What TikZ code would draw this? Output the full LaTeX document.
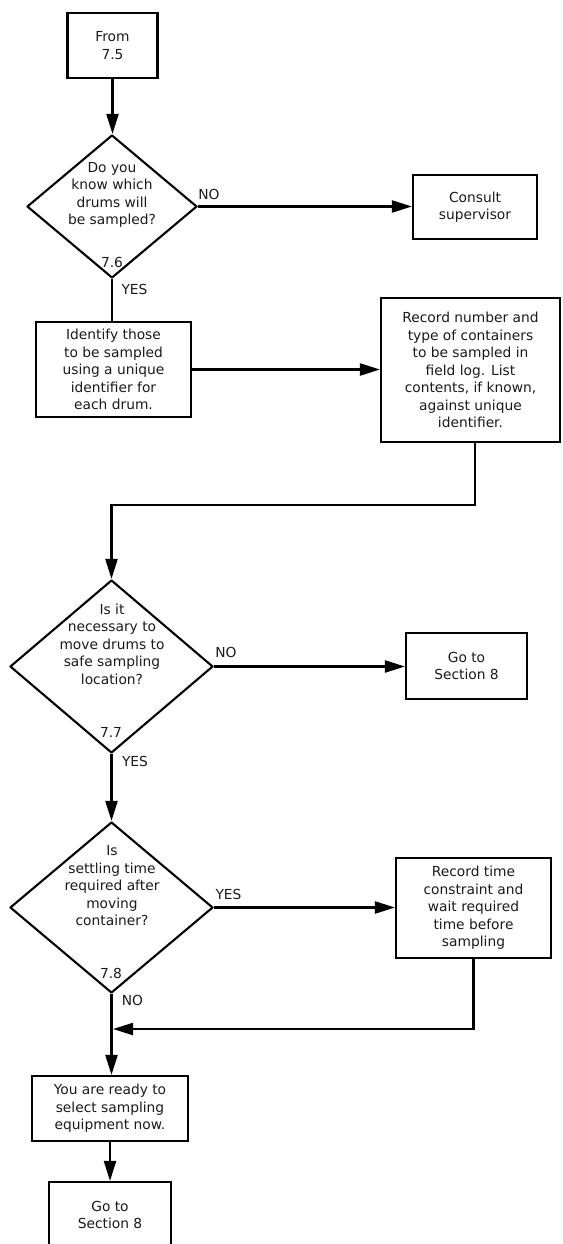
\documentclass[tikz,border=0pt]{standalone}
\usepackage{fontspec}
\setmainfont{DejaVu Sans}
\usetikzlibrary{shapes.geometric,arrows.meta}
\newcommand\flowfont{\fontsize{13.8}{17.5}\selectfont}
\definecolor{txtc}{HTML}{1A1A1A}
\begin{document}
\begin{tikzpicture}[x=1pt,y=-1pt,
  box/.style={draw, line width=2.1pt, inner sep=0pt, align=center, text=txtc, font=\flowfont},
  dia/.style={draw, shape=diamond, line width=2.1pt, line join=round, inner sep=0pt},
  dtext/.style={align=center, text=txtc, font=\flowfont, inner sep=0pt},
  lbl/.style={text=txtc, font=\flowfont, inner sep=0pt},
  arr/.style={line width=2.2pt, -{Triangle[length=20pt,width=12pt]}},
  ln/.style={line width=2.2pt}]
\useasboundingbox (0,0) rectangle (562,1244);
\clip (0,0) rectangle (562,1244);

% boxes
\node[box, minimum width=90pt, minimum height=65pt] (from) at (112.5,45.5) {From\\7.5};
\node[box, minimum width=124pt, minimum height=64pt] (consult) at (475,207) {Consult\\supervisor};
\node[box, minimum width=155pt, minimum height=95pt] (identify) at (113.5,369.5) {Identify those\\to be sampled\\using a unique\\identifier for\\each drum.};
\node[box, minimum width=179pt, minimum height=144pt] (record) at (470.5,370) {Record number and\\type of containers\\to be sampled in\\field log. List\\contents, if known,\\against unique\\identifier.};
\node[box, minimum width=121pt, minimum height=66pt] (goto1) at (466.5,666) {Go to\\Section 8};
\node[box, minimum width=155pt, minimum height=100pt] (rtime) at (473.5,908) {Record time\\constraint and\\wait required\\time before\\sampling};
\node[box, minimum width=156pt, minimum height=65pt] (ready) at (110,1108.5) {You are ready to\\select sampling\\equipment now.};
\node[box, minimum width=122pt, minimum height=66pt] (goto2) at (110,1215) {Go to\\Section 8};

% diamonds
\node[dia, minimum width=170pt, minimum height=143pt] (d1) at (112,206.5) {};
\node[dtext] (d1t) at (112,195) {Do you\\know which\\drums will\\be sampled?};
\node[dia, minimum width=203pt, minimum height=173pt] (d2) at (111.5,666.5) {};
\node[dtext] (d2t) at (112,644) {Is it\\necessary to\\move drums to\\safe sampling\\location?};
\node[dia, minimum width=203pt, minimum height=171pt] (d3) at (111.5,907.5) {};
\node[dtext] (d3t) at (112,886) {Is\\settling time\\required after\\moving\\container?};

% labels
\node[lbl] (n1) at (209,194) {NO};
\node[lbl] (s1) at (112,262) {7.6};
\node[lbl] (y1) at (134.5,289) {YES};
\node[lbl] (n2) at (226,652) {NO};
\node[lbl] (s2) at (111,732) {7.7};
\node[lbl] (y2) at (135,761) {YES};
\node[lbl] (y3) at (228.5,894) {YES};
\node[lbl] (s3) at (111,973) {7.8};
\node[lbl] (n3) at (132.5,1000) {NO};

\coordinate (j) at (113,1029);

% connectors
\draw[arr] (from.south) -- (from.south |- d1.north);
\draw[arr] (d1.east) -- (d1.east -| consult.west);
\draw[ln] (d1.south) -- (d1.south |- identify.north);
\draw[arr] (identify.east) -- (identify.east -| record.west);
\draw[arr] ([xshift=4.5pt]record.south) -- ++(0,62) -| (d2.north);
\draw[arr] (d2.east) -- (d2.east -| goto1.west);
\draw[arr] (d2.south) -- (d3.north);
\draw[arr] (d3.east) -- (d3.east -| rtime.west);
\draw[arr] (rtime.south) |- (j);
\draw[arr] (d3.south) -- (d3.south |- ready.north);
\draw[arr] (ready.south) -- (goto2.north);
\end{tikzpicture}
\end{document}
